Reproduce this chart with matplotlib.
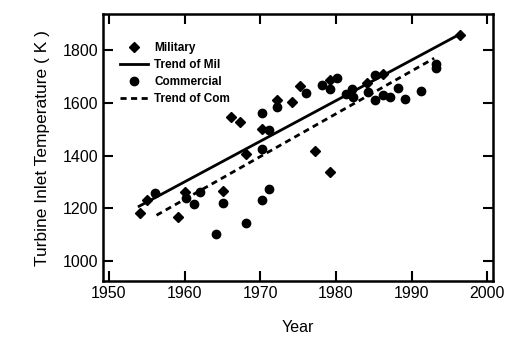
import matplotlib
matplotlib.use("Agg")
import matplotlib.pyplot as plt

plt.rcParams['font.family'] = ['Liberation Sans', 'DejaVu Sans']

# military engines (year, turbine inlet temperature K)
mil_year = [1954.1, 1955.0, 1959.1, 1960.1, 1965.1, 1966.2, 1967.3, 1968.1, 1970.2,
            1972.2, 1974.2, 1975.2, 1977.2, 1979.2, 1979.2, 1984.1, 1986.2, 1996.4]
mil_temp = [1183, 1231, 1168, 1262, 1265, 1547, 1528, 1404, 1499,
            1610, 1604, 1663, 1418, 1336, 1686, 1673, 1708, 1856]

# commercial engines
com_year = [1956.1, 1960.2, 1961.2, 1962.1, 1964.1, 1965.1, 1968.1, 1970.2, 1971.1,
            1970.2, 1971.2, 1970.2, 1972.2, 1976.1, 1978.2, 1979.2, 1980.2, 1981.3,
            1982.1, 1982.3, 1984.3, 1985.2, 1985.2, 1986.2, 1987.1, 1988.2, 1989.2,
            1991.2, 1993.2, 1993.2]
com_temp = [1259, 1241, 1216, 1262, 1102, 1222, 1145, 1231, 1273,
            1423, 1496, 1559, 1582, 1635, 1667, 1650, 1695, 1633,
            1650, 1623, 1641, 1705, 1610, 1629, 1620, 1657, 1612,
            1645, 1730, 1745]

# trend lines (end points)
trend_mil_year = [1954.0, 1995.8]
trend_mil_temp = [1208, 1850]
trend_com_year = [1956.3, 1993.0]
trend_com_temp = [1174, 1768]

xticks = [1950, 1960, 1970, 1980, 1990, 2000]
yticks = [1000, 1200, 1400, 1600, 1800]

fig = plt.figure(figsize=(5.09, 3.44), dpi=100)
ax = fig.add_axes([0.202, 0.183, 0.767, 0.776])

ax.plot(mil_year, mil_temp, 'D', color='black', ms=4.8, linestyle='none', label='Military')
ax.plot(trend_mil_year, trend_mil_temp, '-', color='black', lw=2, label='Trend of Mil')
ax.plot(com_year, com_temp, 'o', color='black', ms=6, linestyle='none', label='Commercial')
ax.plot(trend_com_year, trend_com_temp, '--', color='black', lw=2, dashes=(2.2, 1.6),
        label='Trend of Com')

ax.set_xlim(1949.2, 2000.8)
ax.set_ylim(925, 1935)
ax.set_xticks(xticks)
ax.set_yticks(yticks)
ax.tick_params(direction='in', length=7, width=1.5, top=True, right=True, labelsize=11.5)
for s in ax.spines.values():
    s.set_linewidth(1.8)

ax.set_xlabel('Year', fontsize=11.5, labelpad=14)
ax.set_ylabel('Turbine Inlet Temperature ( K )', fontsize=12.5, labelpad=9)

leg = ax.legend(loc='upper left', bbox_to_anchor=(0.044, 0.895), frameon=False,
                borderaxespad=0, borderpad=0, handlelength=2.4, handletextpad=0.5,
                labelspacing=0.42, prop={'weight': 'bold', 'size': 8.5})

fig.savefig('out.png', dpi=100)
